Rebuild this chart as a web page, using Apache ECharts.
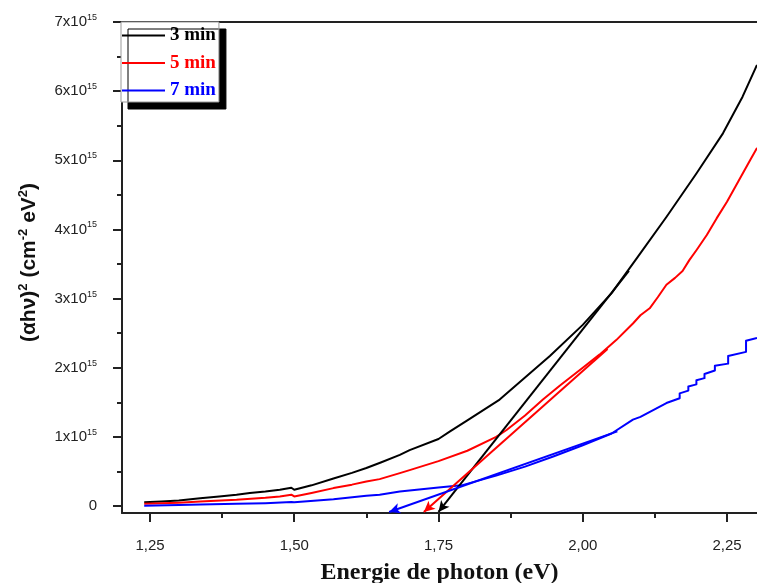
<!DOCTYPE html>
<html>
<head>
<meta charset="utf-8">
<script src="https://cdn.jsdelivr.net/npm/echarts@6/dist/echarts.min.js"></script>
<style>html,body{margin:0;padding:0;background:#fff}#c{width:757px;height:583px}</style>
</head>
<body>
<div id="c"></div>
<script>
// values of (alpha h nu)^2 in units of 1e15 cm^-2 eV^2
var seriesNames = ['3 min', '5 min', '7 min'];
var seriesColors = ['#000000', '#ff0000', '#0000ff'];

var xBlack = [1.24, 1.27, 1.30, 1.337, 1.37, 1.40, 1.423, 1.45, 1.475, 1.495, 1.50, 1.53, 1.568, 1.60, 1.625, 1.65, 1.683, 1.70, 1.75, 1.77, 1.80, 1.856, 1.896, 1.943, 2.00, 2.05, 2.096, 2.145, 2.197, 2.243, 2.277, 2.302];
var yBlack = [0.055, 0.065, 0.08, 0.115, 0.14, 0.165, 0.19, 0.21, 0.235, 0.265, 0.236, 0.30, 0.40, 0.48, 0.55, 0.63, 0.74, 0.81, 0.97, 1.08, 1.24, 1.54, 1.83, 2.17, 2.62, 3.08, 3.61, 4.18, 4.81, 5.39, 5.92, 6.38];

var xRed = [1.24, 1.30, 1.337, 1.40, 1.45, 1.475, 1.495, 1.50, 1.53, 1.568, 1.60, 1.625, 1.648, 1.683, 1.70, 1.75, 1.80, 1.85, 1.868, 1.90, 1.931, 1.96, 2.00, 2.029, 2.058, 2.087, 2.10, 2.116, 2.13, 2.145, 2.16, 2.173, 2.185, 2.197, 2.215, 2.232, 2.25, 2.27, 2.29, 2.302];
var yRed = [0.033, 0.05, 0.066, 0.09, 0.12, 0.14, 0.165, 0.139, 0.19, 0.26, 0.31, 0.356, 0.39, 0.477, 0.52, 0.65, 0.80, 1.00, 1.10, 1.31, 1.54, 1.74, 2.00, 2.19, 2.40, 2.64, 2.76, 2.86, 3.02, 3.20, 3.30, 3.40, 3.56, 3.70, 3.92, 4.16, 4.40, 4.70, 5.00, 5.18];

var xBlue = [1.24, 1.30, 1.337, 1.40, 1.45, 1.495, 1.50, 1.568, 1.625, 1.648, 1.683, 1.75, 1.79, 1.85, 1.90, 1.95, 2.00, 2.05, 2.087, 2.10, 2.145, 2.168, 2.168, 2.183, 2.183, 2.197, 2.197, 2.211, 2.211, 2.229, 2.229, 2.252, 2.252, 2.283, 2.283, 2.302];
var yBlue = [0.004, 0.015, 0.023, 0.032, 0.042, 0.058, 0.055, 0.10, 0.149, 0.163, 0.211, 0.27, 0.30, 0.44, 0.57, 0.72, 0.88, 1.05, 1.25, 1.29, 1.49, 1.56, 1.63, 1.67, 1.73, 1.76, 1.82, 1.85, 1.91, 1.96, 2.03, 2.06, 2.17, 2.23, 2.39, 2.43];

// fitted straight lines: [x start, x end], [y start, y end]
var fitX = [[2.08, 1.750], [2.043, 1.7246], [2.06, 1.6645]];
var fitY = [[3.40, -0.085], [2.27, -0.085], [1.08, -0.085]];

var xTicks = [1.25, 1.50, 1.75, 2.00, 2.25];
var xMinorTicks = [1.375, 1.625, 1.875, 2.125];
var yTicks = [0, 1, 2, 3, 4, 5, 6, 7];
var yMinorTicks = [0.5, 1.5, 2.5, 3.5, 4.5, 5.5, 6.5];

var xs = [xBlack, xRed, xBlue];
var ys = [yBlack, yRed, yBlue];

function pairs(a, b) { return a.map(function (v, i) { return [v, b[i]]; }); }

var XMIN = 1.2015, XMAX = 2.302, YMIN = -0.1, YMAX = 7;

var series = seriesNames.map(function (n, i) {
  return {
    name: n, type: 'line', data: pairs(xs[i], ys[i]),
    symbol: 'none', showSymbol: false, animation: false, smooth: false,
    lineStyle: { color: seriesColors[i], width: 2, join: 'round' },
    itemStyle: { color: seriesColors[i] },
    markLine: {
      silent: true, animation: false,
      symbol: ['none', 'arrow'], symbolSize: [8, 11],
      label: { show: false },
      lineStyle: { color: seriesColors[i], width: 2, type: 'solid' },
      data: [[{ coord: [fitX[i][0], fitY[i][0]] }, { coord: [fitX[i][1], fitY[i][1]] }]]
    }
  };
});

var chart = echarts.init(document.getElementById('c'), null, { renderer: 'canvas' });
chart.setOption({
  backgroundColor: '#fff',
  animation: false,
  grid: { left: 122, right: 0, top: 22, bottom: 70, containLabel: false, outerBoundsMode: 'none' },
  legend: {
    orient: 'vertical', left: 121, top: 22,
    icon: 'rect', itemWidth: 43, itemHeight: 2, itemGap: 8.5, padding: [4, 3, 2, 1],
    backgroundColor: '#fff', borderColor: '#999', borderWidth: 1,
    shadowColor: '#000', shadowBlur: 0, shadowOffsetX: 7, shadowOffsetY: 7,
    data: seriesNames.map(function (n, i) {
      return { name: n, textStyle: { color: seriesColors[i] } };
    }),
    textStyle: { fontFamily: 'Liberation Serif', fontWeight: 'bold', fontSize: 19, lineHeight: 18 }
  },
  xAxis: [{
    type: 'value', min: XMIN, max: XMAX, position: 'bottom',
    name: 'Energie de photon (eV)', nameLocation: 'middle', nameGap: 48,
    nameTextStyle: { fontFamily: 'Liberation Serif', fontWeight: 'bold', fontSize: 24, color: '#111' },
    axisLine: { onZero: false, lineStyle: { color: '#222', width: 2 } },
    axisTick: { customValues: xTicks, length: 9, lineStyle: { color: '#222', width: 2 } },
    axisLabel: { customValues: xTicks, margin: 25, fontFamily: 'Liberation Sans', fontSize: 15, color: '#222',
      formatter: function (v) { return v.toFixed(2).replace('.', ','); } },
    splitLine: { show: false }
  }, {
    type: 'value', min: XMIN, max: XMAX, position: 'bottom',
    axisLine: { show: false, onZero: false },
    axisTick: { customValues: xMinorTicks, length: 5, lineStyle: { color: '#222', width: 2 } },
    axisLabel: { show: false }, splitLine: { show: false }
  }, {
    type: 'value', min: XMIN, max: XMAX, position: 'top',
    axisLine: { onZero: false, lineStyle: { color: '#222', width: 2 } },
    axisTick: { show: false }, axisLabel: { show: false }, splitLine: { show: false }
  }],
  yAxis: [{
    type: 'value', min: YMIN, max: YMAX, position: 'left',
    name: '(\u03b1h\u03bd){s|2} (cm{s|-2} eV{s|2})', nameLocation: 'middle', nameGap: 81, nameRotate: 90,
    nameTextStyle: { fontFamily: 'Liberation Sans', fontWeight: 'bold', fontSize: 21, color: '#111', padding: [0, 0, 0, 10],
      rich: { s: { fontFamily: 'Liberation Sans', fontWeight: 'bold', fontSize: 13, padding: [0, 0, 11, 0] } } },
    axisLine: { onZero: false, lineStyle: { color: '#222', width: 2 } },
    axisTick: { customValues: yTicks, length: 9, lineStyle: { color: '#222', width: 2 } },
    axisLabel: { customValues: yTicks, margin: 25, color: '#222',
      formatter: function (v) { return v === 0 ? '{a|0}' : '{a|' + v + 'x10}{b|15}'; },
      rich: {
        a: { fontFamily: 'Liberation Sans', fontSize: 15, color: '#222' },
        b: { fontFamily: 'Liberation Sans', fontSize: 9, color: '#222', padding: [0, 0, 9, 0] }
      } },
    splitLine: { show: false }
  }, {
    type: 'value', min: YMIN, max: YMAX, position: 'left',
    axisLine: { show: false, onZero: false },
    axisTick: { customValues: yMinorTicks, length: 5, lineStyle: { color: '#222', width: 2 } },
    axisLabel: { show: false }, splitLine: { show: false }
  }],
  series: series
});
</script>
</body>
</html>
